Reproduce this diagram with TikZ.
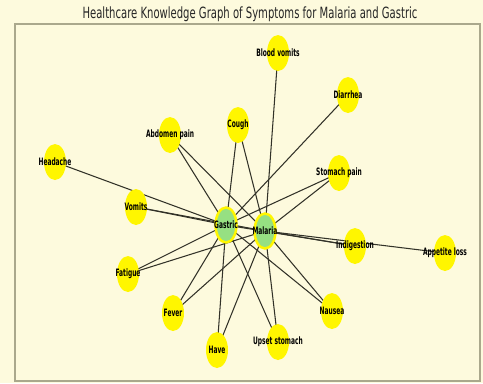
\documentclass[tikz,border=0pt]{standalone}
\usepackage{fontspec}
\setmainfont{DejaVu Sans}
\newfontfamily\titlefont[FakeStretch=0.65]{DejaVu Sans}
\newfontfamily\labelfont[FakeStretch=0.58]{DejaVu Sans}
\usetikzlibrary{shapes.geometric}
\definecolor{paper}{RGB}{253,250,221}
\definecolor{frameline}{RGB}{170,168,140}
\definecolor{symptom}{RGB}{255,246,0}
\definecolor{disease}{RGB}{150,224,130}
\definecolor{edgecol}{RGB}{50,50,40}
\pgfdeclarelayer{paperlayer}
\pgfdeclarelayer{edgelayer}
\pgfsetlayers{paperlayer,edgelayer,main}
\tikzset{
  x=0.02cm, y=-0.02cm,
  symptomnode/.style={ellipse, fill=symptom, minimum width=0.44cm, minimum height=0.72cm, inner sep=0pt},
  diseasenode/.style={ellipse, fill=disease, draw=symptom, line width=1.4pt, minimum width=0.42cm, minimum height=0.70cm, inner sep=0pt},
  nodelabel/.style={font=\labelfont\bfseries\fontsize{5.8}{6}\selectfont, text=black},
  link/.style={draw=edgecol, line width=0.6pt},
}
\begin{document}
\begin{tikzpicture}
\useasboundingbox (0,0) rectangle (483,383);
\begin{pgfonlayer}{paperlayer}
  \fill[paper] (0,0) rectangle (483,383);
  \draw[frameline, line width=0.6pt] (15,24) rectangle (480,381);
\end{pgfonlayer}
\node[font=\titlefont\fontsize{8.8}{10}\selectfont, text=black!85] (title) at (250,14) {Healthcare Knowledge Graph of Symptoms for Malaria and Gastric};

% disease hubs
\node[diseasenode] (gastric) at (226,225) {};
\node[diseasenode] (malaria) at (265,231) {};

% symptoms
\node[symptomnode] (blood) at (278,53) {};
\node[symptomnode] (diarrhea) at (348,95) {};
\node[symptomnode] (cough) at (238,125) {};
\node[symptomnode] (abdomen) at (170,135) {};
\node[symptomnode] (headache) at (55,162) {};
\node[symptomnode] (stomach) at (339,173) {};
\node[symptomnode] (vomits) at (136,207) {};
\node[symptomnode] (indig) at (355,246) {};
\node[symptomnode] (appetite) at (445,253) {};
\node[symptomnode] (fatigue) at (128,274) {};
\node[symptomnode] (fever) at (173,313) {};
\node[symptomnode] (nausea) at (332,311) {};
\node[symptomnode] (upset) at (278,342) {};
\node[symptomnode] (have) at (217,350) {};

% connections, drawn centre to centre beneath the nodes
\begin{pgfonlayer}{edgelayer}
  \foreach \s in {blood, cough, abdomen, stomach, vomits, indig, appetite, fatigue, fever, nausea, upset, have}
    \path[link] (\s.center) -- (malaria.center);
  \foreach \s in {diarrhea, cough, abdomen, headache, stomach, vomits, indig, fatigue, fever, nausea, upset, have}
    \path[link] (\s.center) -- (gastric.center);
\end{pgfonlayer}

% labels on top
\foreach \n/\t in {gastric/Gastric, malaria/Malaria, blood/Blood vomits, diarrhea/Diarrhea, cough/Cough,
  abdomen/Abdomen pain, headache/Headache, stomach/Stomach pain, vomits/Vomits, indig/Indigestion,
  appetite/Appetite loss, fatigue/Fatigue, fever/Fever, nausea/Nausea, upset/Upset stomach, have/Have}
  \node[nodelabel] at (\n.center) {\t};
\end{tikzpicture}
\end{document}
